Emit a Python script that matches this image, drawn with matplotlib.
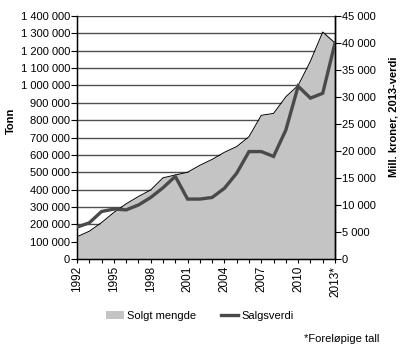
import matplotlib
matplotlib.use("Agg")
import matplotlib.pyplot as plt
from matplotlib.ticker import FuncFormatter, MultipleLocator
from matplotlib.patches import Patch
from matplotlib.lines import Line2D

plt.rcParams['font.family'] = ['Liberation Sans', 'DejaVu Sans']

# ---------------------------------------------------------------------------
# Data
# ---------------------------------------------------------------------------
years = list(range(1992, 2014))
solgt_mengde = [128000, 160000, 210000, 268000, 318000, 360000, 398000, 468000,
                484000, 500000, 540000, 574000, 615000, 648000, 705000, 828000,
                839000, 935000, 1000000, 1140000, 1308000, 1245000]
salgsverdi = [5900, 6700, 8800, 9250, 9100, 10000, 11400, 13200,
              15300, 11100, 11100, 11400, 13100, 15900, 19900, 19900,
              19000, 23900, 32000, 29800, 30700, 40000]
label_years = [1992, 1995, 1998, 2001, 2004, 2007, 2010, 2013]
label_text = ["1992", "1995", "1998", "2001", "2004", "2007", "2010", "2013*"]

AREA = "#c4c4c4"
LINE = "#4a4a4a"


def space_thousands(v, _pos=None):
    return f"{int(round(v)):,}".replace(",", " ")


fig = plt.figure(figsize=(4.0, 3.57), dpi=100)
ax = fig.add_axes([0.1925, 0.2745, 0.645, 0.6805])

# area (left axis, tonnes)
ax.fill_between(years, solgt_mengde, 0, color=AREA, lw=0, zorder=2)
ax.plot(years, solgt_mengde, color="black", lw=0.7, zorder=3)
ax.set_xlim(1992, 2013)
ax.set_ylim(0, 1400000)
ax.yaxis.set_major_locator(MultipleLocator(100000))
ax.yaxis.set_major_formatter(FuncFormatter(space_thousands))
ax.grid(axis="y", color="#505050", lw=1.0, zorder=1)
ax.set_axisbelow(True)
ax.set_xticks(years, minor=True)
ax.set_xticks(label_years)
ax.set_xticklabels(label_text, rotation=90)
ax.tick_params(axis="x", which="both", length=3, width=0.8, pad=2, labelsize=8.5)
ax.tick_params(axis="y", length=4, width=0.8, pad=1, labelsize=8)
ax.spines["top"].set_visible(False)
for s in ("left", "bottom", "right"):
    ax.spines[s].set_linewidth(1.0)

# line (right axis, mill. kroner)
ax2 = ax.twinx()
ax2.plot(years, salgsverdi, color=LINE, lw=2.4, solid_joinstyle="miter", zorder=4)
ax2.set_ylim(0, 45000)
ax2.yaxis.set_major_locator(MultipleLocator(5000))
ax2.yaxis.set_major_formatter(FuncFormatter(space_thousands))
ax2.tick_params(axis="y", length=4, width=0.8, pad=1, labelsize=8)
ax2.spines["top"].set_visible(False)
ax2.spines["right"].set_linewidth(1.0)

# axis titles
fig.text(0.027, 0.661, "Tonn", rotation=90, ha="center", va="center",
         fontsize=8, fontweight="bold")
fig.text(0.983, 0.674, "Mill. kroner, 2013-verdi", rotation=90, ha="center",
         va="center", fontsize=8, fontweight="bold")

handles = [Patch(facecolor=AREA, edgecolor="none"),
           Line2D([0], [0], color=LINE, lw=2.4)]
fig.legend(handles, ["Solgt mengde", "Salgsverdi"], loc="center",
           bbox_to_anchor=(0.5, 0.115), ncol=2, frameon=False, fontsize=8,
           handlelength=1.6, handletextpad=0.3, columnspacing=2.2)

fig.text(0.948, 0.05, "*Foreløpige tall", ha="right", va="center", fontsize=8)

fig.savefig("out.png", dpi=100)
